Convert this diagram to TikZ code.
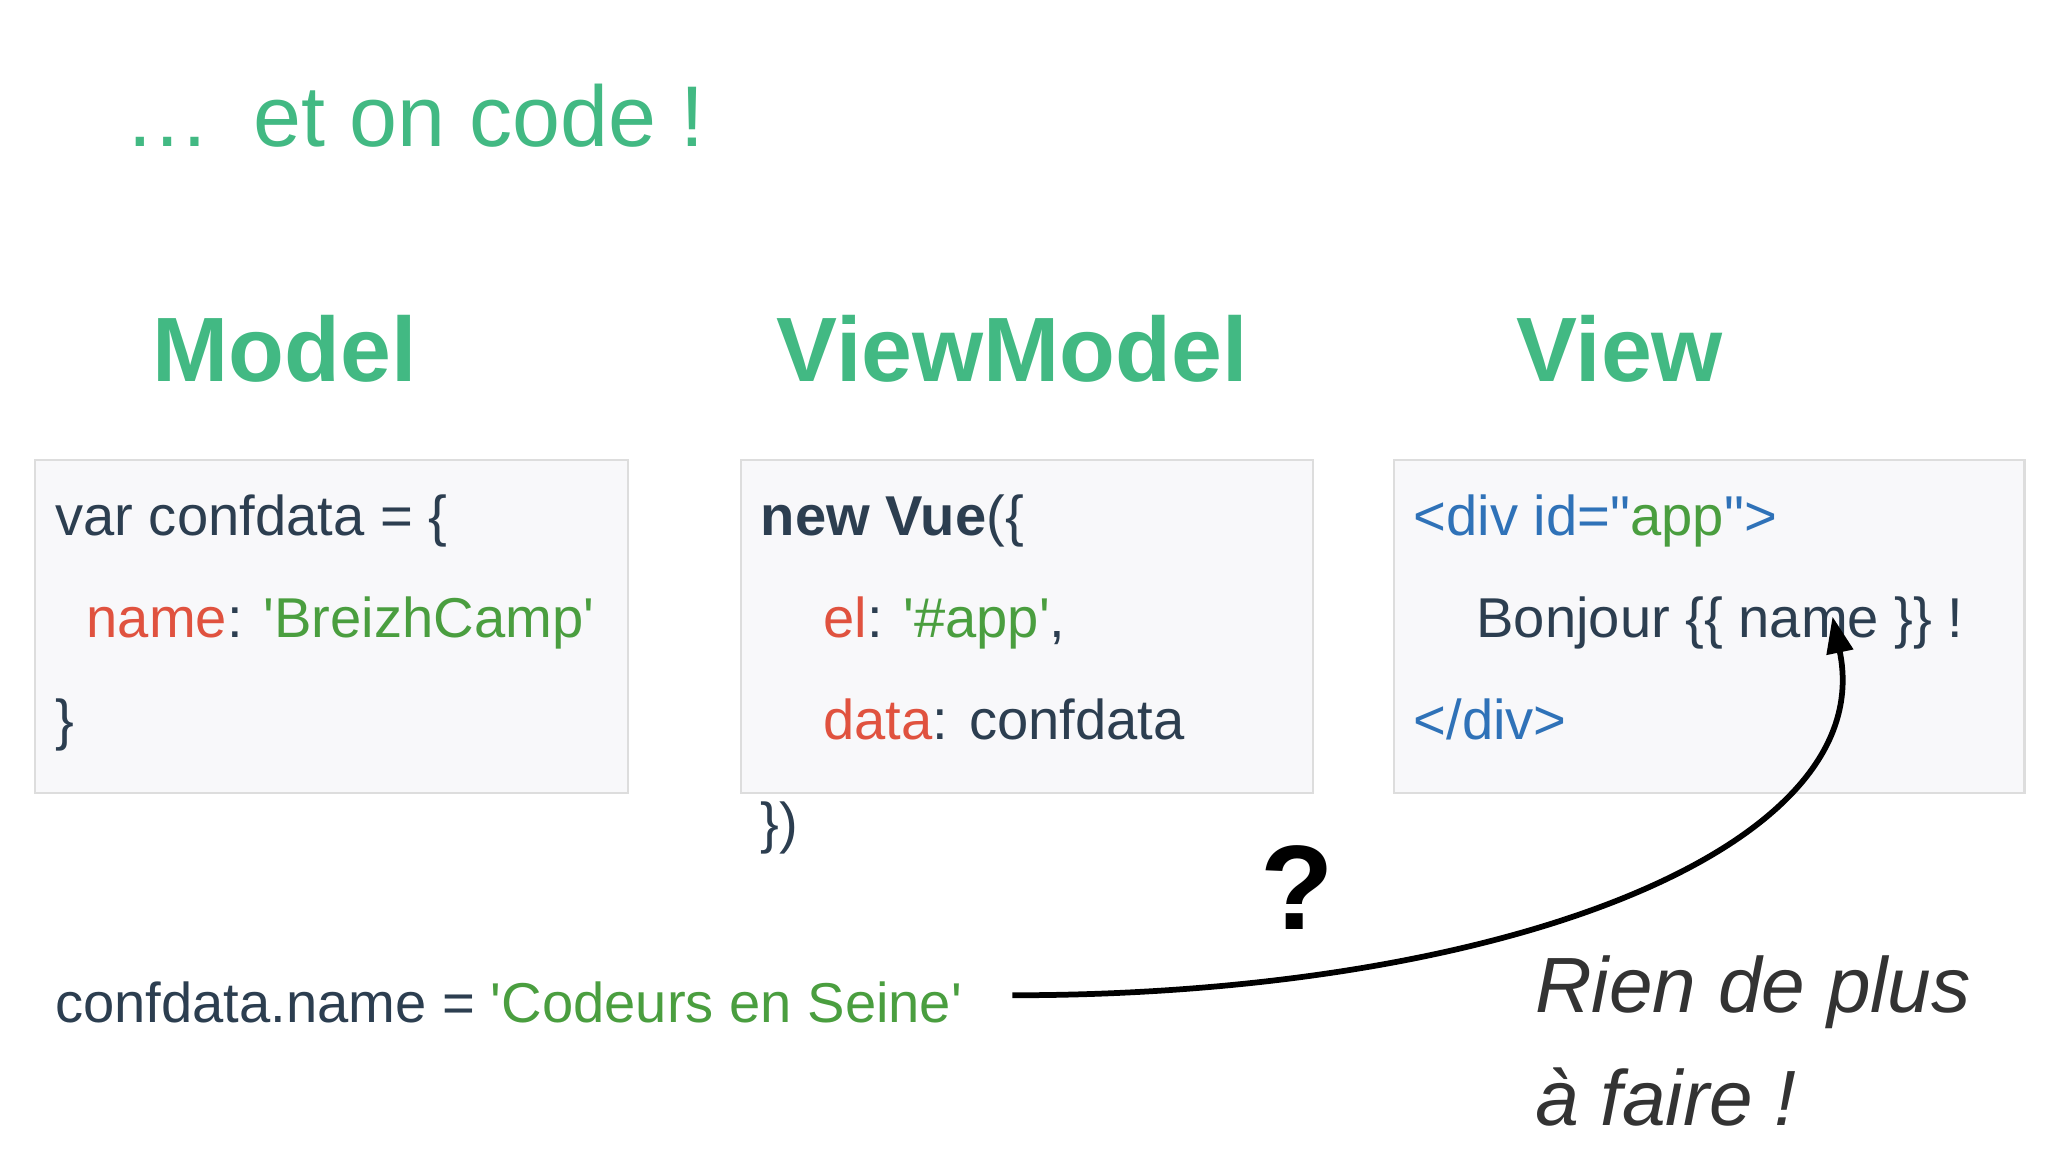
\documentclass[tikz,border=0pt]{standalone}
\usepackage{fontspec}
\setmainfont{Liberation Sans}
\usetikzlibrary{arrows.meta}
\definecolor{vgreen}{HTML}{42B983}
\definecolor{dark}{HTML}{2C3E50}
\definecolor{kred}{HTML}{E0523F}
\definecolor{sgreen}{HTML}{4A9E3F}
\definecolor{tblue}{HTML}{2F72B8}
\definecolor{boxfill}{HTML}{F8F8FA}
\definecolor{boxline}{HTML}{DDDDDD}
\newcommand{\sq}{\textquotesingle}
\newcommand{\dq}{\textquotedbl}
\begin{document}
\begin{tikzpicture}[x=0.5pt,y=-0.5pt,
  head/.style={anchor=base,text=vgreen,font=\fontsize{35}{40}\selectfont\bfseries},
  code/.style={anchor=base west,inner sep=0,text=dark,font=\fontsize{21.5}{25}\selectfont},
  panel/.style={draw=boxline,fill=boxfill,line width=0.8pt},
  hand/.style={anchor=base west,inner sep=0,text=black!80,font=\fontsize{30}{36}\selectfont\itshape}]
\useasboundingbox (0,0) rectangle (1568,882);
\node[anchor=base west,inner sep=0,text=vgreen,font=\fontsize{33}{40}\selectfont] (title) at (95,112) {…\enspace et on code !};
\node[head] (hm) at (218,292) {Model};
\node[head] (hvm) at (775,292) {ViewModel};
\node[head] (hv) at (1240,292) {View};
\draw[panel] (27,352) rectangle (481,607);
\draw[panel] (567,352) rectangle (1005,607);
\draw[panel] (1067,352) rectangle (1550,607);
\node[code] (a1) at (42,410) {var confdata = \{};
\node[code] (a2) at (66,488) {\textcolor{kred}{name}: \textcolor{sgreen}{\sq BreizhCamp\sq}};
\node[code] (a3) at (42,566) {\}};
\node[code] (b1) at (582,410) {\textbf{new Vue}(\{};
\node[code] (b2) at (630,488) {\textcolor{kred}{el}: \textcolor{sgreen}{\sq\#app\sq},};
\node[code] (b3) at (630,566) {\textcolor{kred}{data}: confdata};
\node[code] (b4) at (582,645) {\})};
\node[code,text=tblue] (c1) at (1082,410) {<div id=\dq\textcolor{sgreen}{app}\dq>};
\node[code] (c2) at (1130,488) {Bonjour \{\{ name \}\} !};
\node[code,text=tblue] (c3) at (1082,566) {</div>};
\node[code] (d1) at (42,783) {confdata.name = \textcolor{sgreen}{\sq Codeurs en Seine\sq}};
\coordinate (s) at (775,762);
\coordinate (e) at (1403,472);
\draw[line width=2.2pt,-{Triangle[length=14pt,width=10pt]}] (s) .. controls (1150,762) and (1440,650) .. (e);
\node[anchor=base,inner sep=0,font=\fontsize{46}{50}\selectfont\bfseries] (q) at (993,712) {?};
\node[hand] (r1) at (1175,775) {Rien de plus};
\node[hand] (r2) at (1175,862) {à faire !};
\end{tikzpicture}
\end{document}
